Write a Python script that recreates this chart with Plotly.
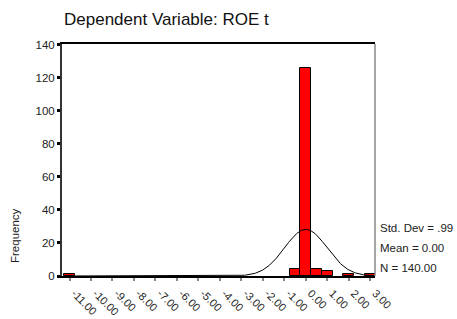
import numpy as np
import plotly.graph_objects as go

bin_centers = [-11.0, -0.5, 0.0, 0.5, 1.0, 2.0, 3.0]
frequencies = [1, 4, 126, 4, 3, 1, 1]
bin_width = 0.5
tick_values = [-11, -10, -9, -8, -7, -6, -5, -4, -3, -2, -1, 0, 1, 2, 3]
tick_labels = ["-11.00", "-10.00", "-9.00", "-8.00", "-7.00", "-6.00", "-5.00", "-4.00",
               "-3.00", "-2.00", "-1.00", "0.00", "1.00", "2.00", "3.00"]
y_ticks = [0, 20, 40, 60, 80, 100, 120, 140]
std_dev = 0.99
mean = 0.0
n_obs = 140

# fitted normal curve from the reported statistics
xs = np.linspace(-11.3, 3.2, 600)
ys = n_obs * bin_width / (std_dev * np.sqrt(2 * np.pi)) * np.exp(-0.5 * ((xs - mean) / std_dev) ** 2)

fig = go.Figure()
fig.add_trace(go.Bar(x=bin_centers, y=frequencies, width=bin_width,
                     marker=dict(color="#ff0000", line=dict(color="black", width=1)),
                     showlegend=False))
fig.add_trace(go.Scatter(x=xs, y=ys, mode="lines", line=dict(color="black", width=1),
                         showlegend=False))

font = "Liberation Sans, Arial, sans-serif"
fig.update_layout(
    width=457, height=319,
    margin=dict(l=62, r=82, t=44, b=43, autoexpand=False),
    paper_bgcolor="white", plot_bgcolor="white",
    font=dict(family=font, size=11, color="#222"),
    bargap=0,
    title=dict(text="Dependent Variable: ROE t", x=64/457, xanchor="left", y=1-19/319,
               yanchor="middle", font=dict(size=17, color="#111")),
    xaxis=dict(range=[-11.35, 3.22], tickvals=tick_values, ticktext=tick_labels,
               tickangle=45, showgrid=False, zeroline=False, showline=True,
               linecolor="black", linewidth=1.5, mirror=True, automargin=False,
               ticks="outside", ticklen=3, tickwidth=2, tickcolor="#888",
               ticklabelshift=5, ticklabelstandoff=2,
               tickfont=dict(size=11, color="#222")),
    yaxis=dict(range=[0, 140.5], tickvals=y_ticks, showgrid=False, zeroline=False,
               showline=True, linecolor="#333", linewidth=2, automargin=False,
               ticks="outside", ticklen=3, tickwidth=3, tickcolor="black",
               tickfont=dict(size=11.5, color="#222")),
)
fig.add_shape(type="line", xref="paper", yref="paper", x0=1, x1=1, y0=0, y1=1,
              line=dict(color="#888", width=1.5))
fig.add_annotation(text="Frequency", xref="paper", yref="paper", x=(15-62)/313,
                   y=(276-236)/232, textangle=-90, showarrow=False,
                   font=dict(size=11.5, color="#222"), xanchor="center", yanchor="middle")
for i, t in enumerate([f"Std. Dev = .{int(round(std_dev*100))}", f"Mean = {mean:.2f}", f"N = {n_obs:.2f}"]):
    ypix = [228, 248, 268][i]
    fig.add_annotation(text=t, xref="paper", yref="paper", x=(378-62)/313, y=(276-ypix)/232,
                       showarrow=False, xanchor="left", yanchor="middle",
                       font=dict(size=11.5, color="#222"))

fig.write_html("out.html", config={"displayModeBar": False},
               post_script="document.body.style.margin='0px';")
